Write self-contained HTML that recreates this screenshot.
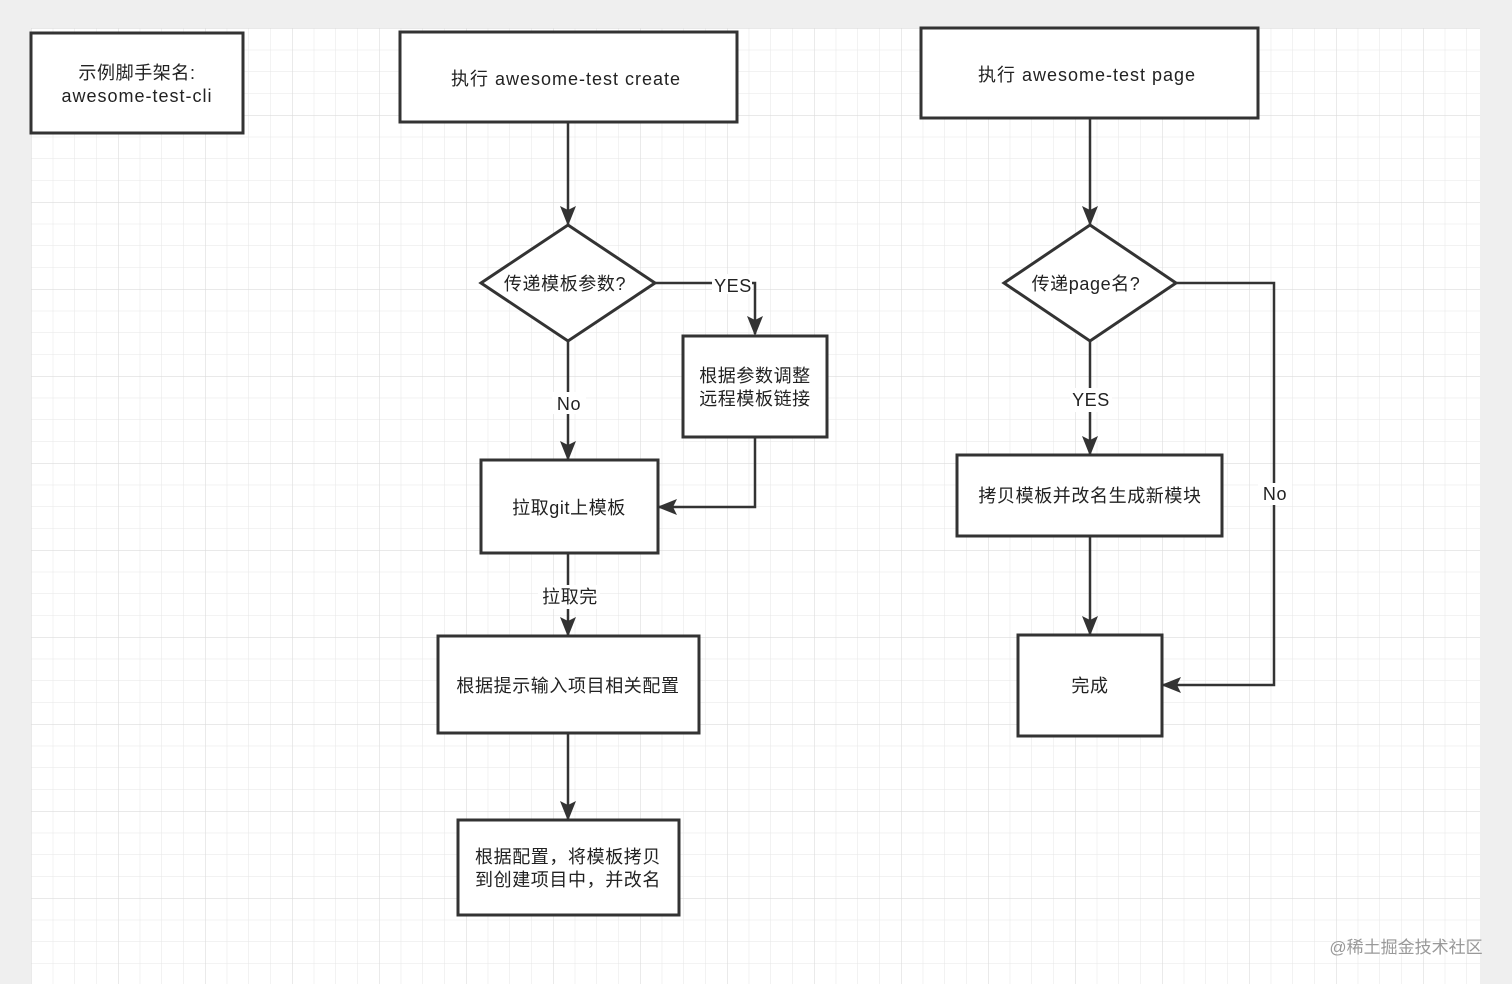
<!DOCTYPE html>
<html><head><meta charset="utf-8"><style>
html,body{margin:0;padding:0;background:#efefef;}
svg{display:block;}
text{font-family:"Liberation Sans","Noto Sans CJK SC",sans-serif;font-size:18px;fill:#222;letter-spacing:0.6px;}
</style></head><body>
<svg width="1512" height="984" viewBox="0 0 1512 984" xmlns="http://www.w3.org/2000/svg">
<defs>
<pattern id="g" x="31" y="28" width="21.75" height="21.75" patternUnits="userSpaceOnUse">
<path d="M0 0H21.75M0 0V21.75" stroke="#e6e6e6" stroke-width="1" fill="none"/>
</pattern>
<pattern id="G" x="31" y="28" width="87" height="87" patternUnits="userSpaceOnUse">
<path d="M0 0H87M0 0V87" stroke="#dcdcdc" stroke-width="1.2" fill="none"/>
</pattern>
<marker id="b" markerWidth="22" markerHeight="16" refX="18" refY="8" orient="auto" markerUnits="userSpaceOnUse" viewBox="0 0 22 16">
<path d="M0 0L20 8L0 16L4 8z" fill="#333"/>
</marker>
</defs>
<rect x="31" y="28" width="1449" height="956" fill="#fff"/>
<rect x="31" y="28" width="1449" height="956" fill="url(#g)"/>
<rect x="31" y="28" width="1449" height="956" fill="url(#G)"/>
<g fill="#fff" stroke="#333" stroke-width="3">
<rect x="31" y="33" width="212" height="100"/>
<rect x="400" y="32" width="337" height="90"/>
<rect x="921" y="28" width="337" height="90"/>
<polygon points="568,225 655,283 568,341 481,283"/>
<rect x="683" y="336" width="144" height="101"/>
<rect x="481" y="460" width="177" height="93"/>
<rect x="438" y="636" width="261" height="97"/>
<rect x="458" y="820" width="221" height="95"/>
<polygon points="1090,225 1176,283 1090,341 1004,283"/>
<rect x="957" y="455" width="265" height="81"/>
<rect x="1018" y="635" width="144" height="101"/>
</g>
<g fill="none" stroke="#333" stroke-width="2.5" marker-end="url(#b)">
<path d="M568 122V224"/>
<path d="M655 283H755V334"/>
<path d="M755 437V507H659"/>
<path d="M568 341V459"/>
<path d="M568 553V635"/>
<path d="M568 733V819"/>
<path d="M1090 118V224"/>
<path d="M1090 341V454"/>
<path d="M1090 536V634"/>
<path d="M1176 283H1274V685H1163"/>
</g>
<g text-anchor="middle">
<text x="137" y="79">示例脚手架名:</text>
<text x="137" y="102" style="letter-spacing:1px">awesome-test-cli</text>
<text x="566" y="85" style="letter-spacing:1px">执行 awesome-test create</text>
<text x="1087" y="81" style="letter-spacing:1px">执行 awesome-test page</text>
<text x="565" y="290">传递模板参数?</text>
<rect x="712" y="274" width="40" height="20" fill="#fff"/>
<text x="733" y="292">YES</text>
<text x="755" y="382">根据参数调整</text>
<text x="755" y="405">远程模板链接</text>
<rect x="552" y="392" width="34" height="22" fill="#fff"/>
<text x="569" y="410">No</text>
<text x="569" y="514">拉取git上模板</text>
<rect x="538" y="585" width="62" height="24" fill="#fff"/>
<text x="570" y="603">拉取完</text>
<text x="568" y="692">根据提示输入项目相关配置</text>
<text x="568" y="863">根据配置，将模板拷贝</text>
<text x="568" y="886">到创建项目中，并改名</text>
<text x="1086" y="290">传递page名?</text>
<rect x="1070" y="388" width="42" height="24" fill="#fff"/>
<text x="1091" y="406">YES</text>
<text x="1090" y="502">拷贝模板并改名生成新模块</text>
<text x="1090" y="692">完成</text>
<rect x="1258" y="483" width="34" height="22" fill="#fff"/>
<text x="1275" y="500">No</text>
<text x="1406" y="953" style="fill:#999;font-size:17px;letter-spacing:0">@稀土掘金技术社区</text>
</g>
</svg>
</body></html>
